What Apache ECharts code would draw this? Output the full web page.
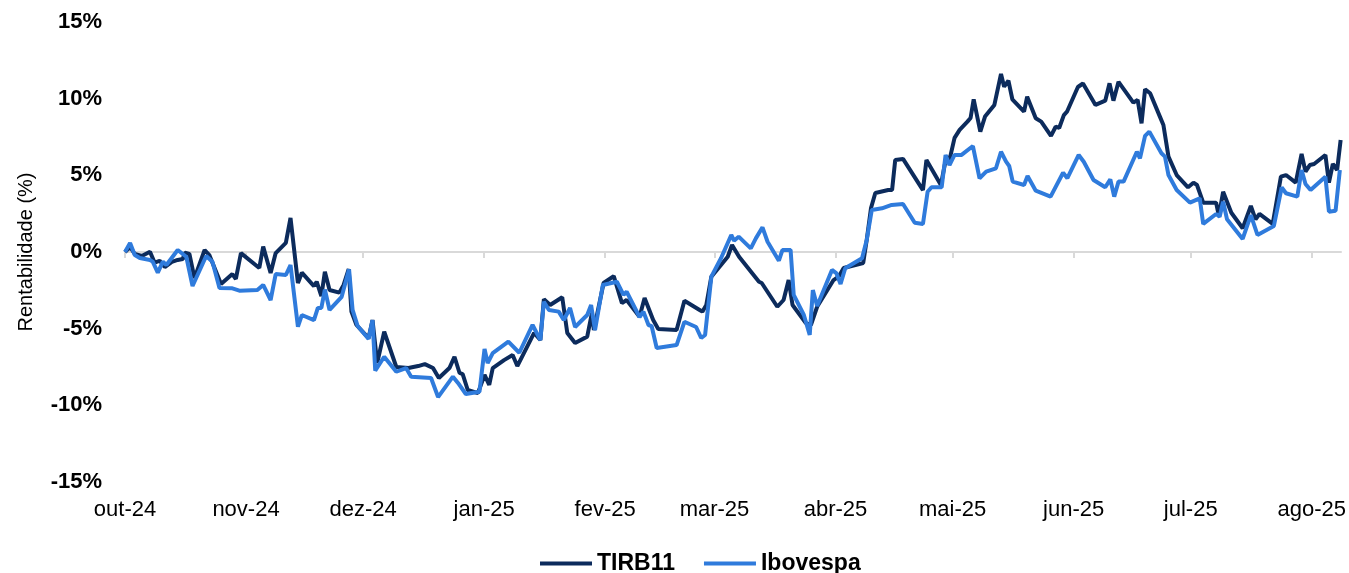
<!DOCTYPE html>
<html><head><meta charset="utf-8">
<script src="https://cdn.jsdelivr.net/npm/echarts@6/dist/echarts.min.js"></script>
<style>html,body{margin:0;padding:0;background:#fff}#c{width:1349px;height:573px}</style>
</head><body><div id="c"></div>
<script>
// x = days since 2024-10-01
const monthStarts = [0, 31, 61, 92, 123, 151, 182, 212, 243, 273, 304];
const monthLabels = ['out-24','nov-24','dez-24','jan-25','fev-25','mar-25','abr-25','mai-25','jun-25','jul-25','ago-25'];
const yMin = -15, yMax = 15, yStep = 5;

const tirbDays = [0,1.3,2.5,4.3,6.4,7.6,8.9,10.2,12.0,13.5,14.8,15.3,16.5,17.8,20.4,21.6,24.6,27.5,28.4,29.7,34.4,35.4,37.3,38.6,41.2,42.4,44.3,45.3,48.4,49.1,50.3,51.2,52.4,54.9,56.0,57.3,58.0,59.3,62.4,63.4,64.6,66.4,69.5,72.6,75.1,76.8,78.9,80.4,83.1,84.4,85.7,86.5,87.8,90.4,92.1,93.3,94.2,97.1,99.3,100.5,104.8,106.4,107.3,108.9,112.0,113.3,115.3,118.4,119.6,120.1,122.6,125.2,127.3,128.5,131.8,133.1,135.3,136.6,141.3,143.3,147.2,147.9,148.9,150.2,154.4,155.5,157.3,162.4,163.1,167.1,168.7,170.0,171.0,174.4,175.7,177.3,181.5,182.8,184.1,189.1,190.0,191.1,192.2,195.5,196.5,197.3,199.3,204.4,205.3,209.0,210.4,211.2,212.5,213.8,215.8,216.6,217.4,219.1,220.3,222.7,224.4,225.2,226.3,227.3,230.3,231.1,233.3,234.7,237.2,238.4,239.3,240.5,241.3,244.1,245.4,248.6,251.1,252.2,253.2,254.5,258.3,259.4,260.4,261.3,262.6,265.1,266.0,267.3,269.4,272.3,273.7,274.6,276.2,279.5,280.2,281.3,283.4,286.3,288.4,289.6,290.6,294.0,296.1,297.4,299.9,301.4,302.4,303.5,304.6,307.5,308.4,309.4,310.5,311.4];
const tirbVals = [0,0.33,-0.13,-0.26,0.02,-0.70,-0.57,-0.98,-0.65,-0.52,-0.46,-0.05,-0.13,-1.70,0.13,-0.20,-2.09,-1.44,-1.76,-0.07,-1.04,0.35,-1.37,-0.07,0.59,2.22,-2.02,-1.35,-2.22,-1.94,-2.87,-1.29,-2.48,-2.65,-2.15,-1.11,-3.89,-4.76,-5.61,-4.44,-7.24,-5.20,-7.50,-7.57,-7.44,-7.31,-7.57,-8.22,-7.57,-6.83,-7.89,-7.96,-9.00,-9.20,-8.02,-8.67,-7.57,-7.05,-6.72,-7.44,-5.28,-5.74,-3.07,-3.46,-2.95,-5.28,-5.94,-5.52,-3.98,-5.09,-2.02,-1.57,-3.33,-3.13,-4.22,-3.00,-4.44,-5.02,-5.09,-3.18,-3.78,-3.89,-3.46,-1.61,-0.31,0.46,-0.31,-1.94,-2.02,-3.57,-3.13,-1.83,-3.46,-4.63,-4.76,-3.57,-1.83,-1.61,-1.04,-0.72,0.78,2.87,3.85,4.04,4.04,6.00,6.07,4.04,6.00,4.37,6.22,6.00,7.44,7.96,8.50,8.74,9.96,7.85,8.83,9.59,11.61,10.78,11.17,9.96,9.15,10.13,8.72,8.50,7.57,8.17,8.09,8.93,9.15,10.76,10.99,9.59,9.87,11.00,9.87,11.10,9.74,9.92,8.39,10.61,10.35,8.83,8.28,6.22,5.02,4.22,4.52,4.37,3.22,3.22,2.35,3.93,2.56,1.55,3.00,2.13,2.48,1.83,4.91,5.02,4.52,6.39,5.24,5.67,5.74,6.33,4.52,5.74,5.35,7.31];

const iboDays = [0,1.3,2.5,3.8,6.4,7.1,8.4,9.7,10.6,13.5,15.7,17.3,20.8,22.4,24.2,27.5,29.3,33.9,35.4,37.3,38.6,41.2,42.4,44.3,45.3,48.4,49.4,50.3,51.2,52.4,55.5,57.4,58.3,59.6,62.4,63.4,64.1,66.4,69.5,72.0,73.3,78.4,80.2,84.0,85.3,87.3,90.8,92.1,92.9,94.2,98.2,101.0,104.4,106.4,107.3,108.6,111.1,112.4,114.0,115.3,118.4,119.4,120.4,122.4,126.0,127.7,128.5,131.8,132.8,134.1,134.9,136.2,141.3,143.3,146.3,147.6,148.6,150.2,152.7,155.3,156.0,157.2,160.3,161.6,163.3,164.6,167.5,168.4,170.5,171.3,173.9,175.4,176.2,177.3,181.1,182.2,183.3,184.5,188.8,190.0,191.3,193.9,196.4,199.3,202.3,204.4,205.6,206.6,209.2,210.2,211.2,212.5,214.3,217.2,218.9,220.6,223.1,224.4,225.7,226.5,227.4,230.3,231.2,233.3,237.1,240.3,241.4,244.3,245.6,248.1,251.1,252.4,253.4,254.5,255.8,259.2,260.0,261.3,262.4,265.5,266.4,267.3,269.4,272.8,275.3,276.2,279.5,280.4,281.3,282.3,286.3,288.4,290.1,294.3,296.3,297.4,300.3,301.4,302.4,303.7,307.5,308.4,310.1,311.2];
const iboVals = [0,0.59,-0.20,-0.39,-0.52,-0.63,-1.35,-0.63,-0.85,0.13,-0.31,-2.22,-0.26,-0.63,-2.35,-2.37,-2.52,-2.48,-2.15,-3.13,-1.44,-1.50,-0.85,-4.87,-4.11,-4.44,-3.65,-3.65,-2.45,-3.78,-2.92,-1.13,-3.78,-4.83,-5.67,-4.44,-7.74,-6.83,-7.81,-7.57,-8.13,-8.22,-9.46,-8.13,-8.54,-9.26,-9.11,-6.33,-7.24,-6.59,-5.85,-6.57,-4.76,-5.74,-3.24,-3.78,-3.89,-4.44,-3.65,-4.89,-4.11,-3.46,-5.09,-2.15,-1.94,-2.80,-2.59,-4.24,-3.89,-4.76,-4.83,-6.26,-6.07,-4.55,-4.89,-5.61,-5.41,-1.61,-0.39,1.11,0.74,1.00,0.24,0.89,1.61,0.67,-0.57,0.13,0.13,-2.80,-4.11,-5.41,-2.48,-3.52,-1.17,-1.37,-2.09,-1.06,-0.41,0.78,2.74,2.85,3.07,3.13,1.91,1.83,3.93,4.22,4.22,6.33,5.67,6.33,6.33,6.91,4.81,5.24,5.46,6.54,5.89,5.61,4.59,4.37,4.96,4.00,3.61,5.17,4.81,6.33,5.89,4.70,4.22,4.74,3.61,4.59,4.59,6.54,6.11,7.57,7.85,6.44,6.22,5.02,4.04,3.22,3.50,1.83,2.48,2.30,3.28,2.13,0.85,2.41,1.11,1.70,4.22,3.83,3.61,5.35,4.44,4.04,4.91,2.63,2.69,5.35];

const FONT = 'Liberation Sans, Arial, sans-serif';
const DARK = '#0c2b5c', LIGHT = '#2f7bdc';
const chart = echarts.init(document.getElementById('c'), null, {renderer: 'canvas'});
const labelFor = v => { const i = monthStarts.indexOf(v); return i >= 0 ? monthLabels[i] : ''; };

chart.setOption({
  animation: false,
  backgroundColor: '#ffffff',
  grid: {left: 125, right: 0, top: 22, bottom: 91, containLabel: false},
  legend: {
    left: 535, top: 547,
    icon: 'rect', itemWidth: 52, itemHeight: 4, itemGap: 29,
    textStyle: {fontFamily: FONT, fontSize: 23, fontWeight: 'bold', color: '#000'},
    data: ['TIRB11', 'Ibovespa']
  },
  xAxis: [
    {
      type: 'value', position: 'bottom', min: 0, max: 311.5,
      axisLine: {show: false, onZero: false},
      axisTick: {show: false},
      splitLine: {show: false},
      axisLabel: {
        customValues: monthStarts, formatter: labelFor, showMinLabel: true, showMaxLabel: true,
        margin: 17, fontFamily: FONT, fontSize: 22, color: '#000'
      }
    },
    {
      type: 'value', position: 'top', min: 0, max: 311.5,
      axisLine: {show: true, onZero: true, lineStyle: {color: '#d9d9d9', width: 2}},
      axisTick: {show: true, inside: true, length: 6, customValues: monthStarts, lineStyle: {color: '#d9d9d9', width: 2}},
      axisLabel: {show: false},
      splitLine: {show: false}
    }
  ],
  yAxis: {
    type: 'value', min: yMin, max: yMax, interval: yStep,
    name: 'Rentabilidade (%)', nameLocation: 'middle', nameGap: 89,
    nameTextStyle: {fontFamily: FONT, fontSize: 20, color: '#000'},
    axisLine: {show: false}, axisTick: {show: false}, splitLine: {show: false},
    axisLabel: {formatter: v => v + '%', margin: 23, fontFamily: FONT, fontSize: 22, fontWeight: 'bold', color: '#000'}
  },
  series: [
    {
      name: 'TIRB11', type: 'line', xAxisIndex: 0, symbol: 'none', smooth: false,
      lineStyle: {color: DARK, width: 4}, itemStyle: {color: DARK},
      data: tirbDays.map((d, i) => [d, tirbVals[i]])
    },
    {
      name: 'Ibovespa', type: 'line', xAxisIndex: 0, symbol: 'none', smooth: false,
      lineStyle: {color: LIGHT, width: 4}, itemStyle: {color: LIGHT},
      data: iboDays.map((d, i) => [d, iboVals[i]])
    }
  ]
});
</script>
</body></html>
